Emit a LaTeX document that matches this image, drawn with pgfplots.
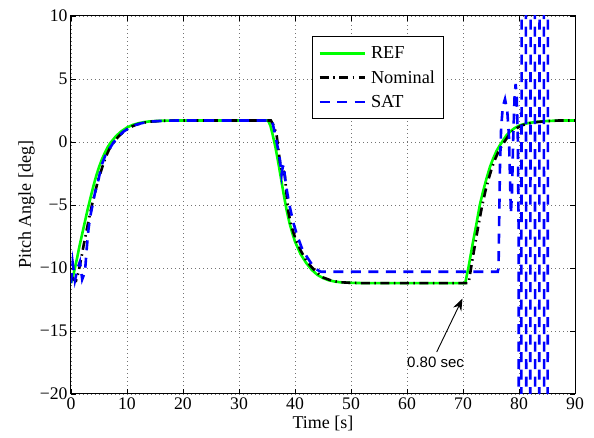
\documentclass[border=0pt]{standalone}
\usepackage{fontspec}
\setmainfont{Liberation Serif}
\newfontfamily\arial{Liberation Sans}
\usepackage{pgfplots}
\pgfplotsset{compat=1.18}
\usetikzlibrary{arrows.meta}
\begin{document}
\begin{tikzpicture}
\begin{axis}[
  scale only axis, width=504pt, height=378pt,
  xmin=0, xmax=90, ymin=-20, ymax=10,
  xtick={0,10,20,30,40,50,60,70,80,90},
  xticklabels={0,10,20,30,40,50,60,70,80,90},
  ytick={-20,-15,-10,-5,0,5,10},
  yticklabels={−20,−15,−10,−5,0,5,10},
  tick align=inside, xtick pos=both, ytick pos=both,
  xticklabel pos=lower, yticklabel pos=left,
  major tick length=5pt,
  every tick/.style={black, line width=0.8pt},
  grid=major,
  grid style={black!55, line width=0.6pt, dash pattern=on 1pt off 3pt},
  axis line style={black, line width=1pt},
  tick label style={font=\fontsize{17.7}{20}\selectfont},
  xlabel={Time [s]}, ylabel={Pitch Angle [deg]},
  label style={font=\fontsize{18}{20}\selectfont},
  xlabel style={at={(axis description cs:0.5,-0.079)}, anchor=center},
  ylabel style={at={(axis description cs:-0.088,0.5)}, anchor=center, rotate=0},
  legend style={at={(0.478,0.947)}, anchor=north west, draw=black, line width=1pt, fill=white,
    font=\fontsize{18.3}{20}\selectfont, inner xsep=6pt, inner ysep=8pt,
    row sep=6.5pt, /tikz/every odd column/.append style={column sep=3pt}},
  legend cell align=left,
  legend image code/.code={\draw[#1] (0pt,0pt) -- (45pt,0pt);},
]
% REF
\addplot[green, line width=2.6pt] coordinates {
(0,-11.2)(0.5,-10.4)(1,-9.4)(1.5,-8.3)(2,-7.3)(2.5,-6.3)(3,-5.3)(3.5,-4.4)(4,-3.5)(4.5,-2.7)
(5,-2.0)(5.5,-1.4)(6,-0.9)(6.5,-0.45)(7,-0.1)(8,0.45)(9,0.85)(10,1.15)(11,1.35)(12,1.48)
(13,1.57)(14,1.63)(16,1.68)(18,1.7)(35.2,1.7)
(35.6,1.3)(36,0.6)(36.5,-0.4)(37,-1.6)(37.5,-2.9)(38,-4.2)(38.5,-5.4)(39,-6.4)(39.5,-7.2)
(40,-7.9)(40.5,-8.4)(41,-8.9)(42,-9.6)(43,-10.15)(44,-10.55)(45,-10.8)(46,-10.97)(47,-11.07)
(48,-11.13)(50,-11.18)(52,-11.2)(70.4,-11.2)
(71.0,-9.9)(71.8,-7.9)(72.4,-6.5)(73.0,-5.0)(73.6,-3.9)(74.2,-2.9)(74.8,-2.0)(75.4,-1.3)
(76.0,-0.7)(76.6,-0.25)(77.2,0.15)(77.8,0.55)(78.5,0.85)(79.2,1.1)(80.2,1.33)(81.4,1.48)
(83,1.59)(84.9,1.66)(87,1.7)(90,1.7)
};
\addlegendentry{REF}
% Nominal
\addplot[black, line width=2.6pt, dash pattern=on 9pt off 4.5pt on 1.5pt off 4.5pt] coordinates {
(0,-10.6)(0.4,-10.9)(0.9,-11.0)(1.3,-10.4)(1.8,-9.3)(2.3,-8.1)(2.8,-7.0)(3.3,-5.9)(3.8,-4.9)
(4.3,-4.0)(4.8,-3.1)(5.3,-2.4)(5.8,-1.7)(6.3,-1.1)(6.8,-0.6)(7.5,-0.1)(8.5,0.45)(9.5,0.85)
(10.5,1.15)(11.5,1.35)(12.5,1.48)(13.5,1.57)(14.5,1.63)(16.5,1.68)(18.5,1.7)(35.7,1.7)
(36.2,1.3)(36.7,0.6)(37.1,-0.8)(37.4,-1.9)(37.7,-2.3)(37.9,-2.2)(38.2,-2.7)(38.5,-4.2)
(38.8,-5.5)(39.3,-6.6)(39.8,-7.3)(40.3,-7.9)(41,-8.6)(42,-9.4)(43,-9.95)(44,-10.4)(45,-10.75)
(46.5,-11.0)(48,-11.13)(50,-11.18)(52,-11.2)(71.0,-11.2)
(71.4,-10.1)(72.2,-8.0)(72.8,-6.5)(73.4,-5.1)(74.0,-3.9)(74.6,-2.9)(75.2,-2.0)(75.8,-1.3)
(76.4,-0.7)(77.0,-0.25)(77.6,0.15)(78.2,0.55)(78.9,0.85)(79.6,1.1)(80.6,1.33)(81.8,1.48)
(83.4,1.59)(85.3,1.66)(87,1.7)(90,1.7)
};
\addlegendentry{Nominal}
% SAT
\addplot[blue, line width=2.6pt, dash pattern=on 10pt off 7.5pt] coordinates {
(0,-11.2)(0.3,-9.6)(0.7,-11.0)(1.2,-10.0)(1.6,-9.5)(2.0,-10.9)(2.5,-10.3)(2.8,-8.5)(3.1,-7.0)
(3.4,-6.0)(3.9,-4.9)(4.3,-4.0)(4.7,-3.4)(5.1,-2.6)(5.5,-1.8)(6.1,-1.1)(6.7,-0.66)(7.5,-0.1)
(8.3,0.35)(9.3,0.8)(10.5,1.15)(11.5,1.35)(12.5,1.48)(13.5,1.57)(14.5,1.63)(16.5,1.68)
(18.5,1.7)(35.9,1.7)
(36.4,0.7)(36.9,-0.4)(37.3,-1.4)(37.6,-2.6)(37.8,-2.0)(38.0,-1.8)(38.2,-2.8)(38.6,-4.0)
(39.1,-5.2)(39.7,-6.4)(40.3,-7.3)(41.2,-8.4)(42.1,-9.1)(43.0,-9.7)(43.8,-10.1)(44.6,-10.3)
(76.2,-10.3)
(76.35,-10.0)(76.45,-6.5)(76.6,-2.0)(76.8,1.0)(77.1,2.8)(77.5,3.4)(77.9,2.5)(78.2,0.5)
(78.4,-3.0)(78.55,-5.7)(78.75,-4.0)(78.95,0.0)(79.2,3.5)(79.4,4.6)(79.6,3.5)(79.8,0.0)
(79.95,-8)(80.05,-200)(80.85,200)(81.65,-200)(82.45,200)(83.25,-200)(84.05,200)(84.85,-200)(85.45,200)
};
\addlegendentry{SAT}
\draw[-{Stealth[length=12pt,width=9pt]}, line width=0.9pt] (axis cs:65.3,-16.67) -- (axis cs:69.9,-12.43);
\node[font=\arial\fontsize{15}{18}\selectfont] at (axis cs:65.1,-17.46) {0.80 sec};
\end{axis}
\pgfresetboundingbox
\path (current axis.south west) ++(-71pt,-43pt) coordinate (bbA);
\path (current axis.north east) ++(19pt,16pt) coordinate (bbB);
\path (bbA) rectangle (bbB);
\end{tikzpicture}
\end{document}
